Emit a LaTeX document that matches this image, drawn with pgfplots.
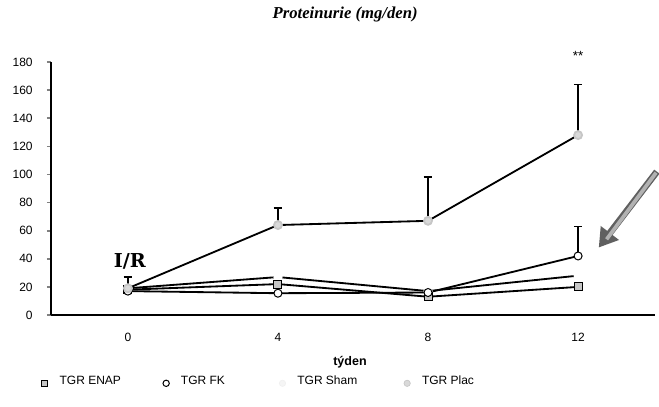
\documentclass[border=0pt]{standalone}
\usepackage{fontspec}
\setmainfont{Liberation Sans}
\newfontfamily\titlefont{Liberation Serif}
\newfontfamily\slabfont{DejaVu Serif}
\usepackage{pgfplots}
\pgfplotsset{compat=1.18}
\usetikzlibrary{arrows.meta}

\begin{document}
\begin{tikzpicture}
% 1 px of the reference = 0.6pt
\useasboundingbox (-30.6pt,-54.6pt) rectangle (364.8pt,189pt);
\begin{axis}[
    at={(0,0)}, anchor=south west,
    scale only axis,
    width=362.4pt, height=151.8pt,
    xmin=-2.05, xmax=14.05,
    ymin=0, ymax=180,
    axis lines*=left,
    axis line style={line width=1pt},
    xtick={0,4,8,12},
    ytick={0,20,...,180},
    x tick style={draw=none},
    y tick style={line width=1pt},
    tick align=outside,
    major tick length=2.5pt,
    /pgf/number format/assume math mode=true,
    ticklabel style={font=\fontsize{7.2}{8}\selectfont},
    yticklabel style={xshift=-5pt},
    xticklabel style={yshift=-5pt},
    clip=false,
    legend columns=4,
    legend style={
        at={(rel axis cs:-0.016,-0.27)}, anchor=west,
        draw=none, fill=none, inner sep=0pt,
        font=\fontsize{7.2}{8}\selectfont,
        /tikz/every even column/.append style={column sep=0pt},
    },
    legend cell align=left,
]

% TGR Sham (marker practically white)
\addplot[black, line width=1.1pt, mark=*, mark size=2.2pt,
    mark options={fill=white, draw=white}, forget plot]
    coordinates {(0,19) (4,27) (8,17) (12,28)};

% TGR ENAP
\addplot[black, line width=1.1pt, mark=square*, mark size=2.4pt,
    mark options={fill=gray!45, draw=black, line width=0.6pt}, forget plot]
    coordinates {(0,18) (4,22) (8,13) (12,20)};

% TGR FK
\addplot[black, line width=1.1pt, mark=*, mark size=2.4pt,
    mark options={fill=white, draw=black, line width=0.6pt}, forget plot,
    error bars/.cd, y dir=plus, y explicit,
    error bar style={line width=1pt, black},
    error mark options={rotate=90, mark size=2.6pt, line width=1pt, black}]
    coordinates {(0,17) (4,15.5) (8,16) (12,42) +- (0,21)};

% TGR Plac
\addplot[black, line width=1.1pt, mark=*, mark size=2.4pt,
    mark options={fill=gray!30, draw=gray!45}, forget plot,
    error bars/.cd, y dir=plus, y explicit,
    error bar style={line width=1pt, black},
    error mark options={rotate=90, mark size=2.6pt, line width=1pt, black}]
    coordinates {(0,19) +- (0,8) (4,64) +- (0,12) (8,67) +- (0,31) (12,128) +- (0,36)};

% legend entries (marks only)
\addlegendimage{only marks, mark=square*, mark size=1.9pt, mark options={fill=gray!45, draw=black, line width=0.6pt}}
\addlegendentry{\hspace{5pt}\raisebox{2pt}{\makebox[60pt][l]{TGR ENAP}}}
\addlegendimage{only marks, mark=*, mark size=1.9pt, mark options={fill=white, draw=black, line width=0.6pt}}
\addlegendentry{\hspace{5pt}\raisebox{2pt}{\makebox[57pt][l]{TGR FK}}}
\addlegendimage{only marks, mark=*, mark size=1.9pt, mark options={fill=gray!8, draw=gray!12}}
\addlegendentry{\hspace{5pt}\raisebox{2pt}{\makebox[62pt][l]{TGR Sham}}}
\addlegendimage{only marks, mark=*, mark size=1.9pt, mark options={fill=gray!30, draw=gray!45}}
\addlegendentry{\hspace{5pt}\raisebox{2pt}{\makebox[40pt][l]{TGR Plac}}}

% annotations
\node[font=\slabfont\bfseries\fontsize{11.5}{12}\selectfont] at (axis cs:0.05,38) {I/R};
\node[font=\fontsize{8}{9}\selectfont] at (axis cs:12,184) {**};
\draw[line width=4pt, gray!75!black, -{Triangle[length=11pt, width=13pt]}]
    (axis cs:14.1,102) -- (axis cs:12.55,48);
\draw[line width=2.2pt, gray!60, shorten >=3pt, shorten <=0.8pt]
    (axis cs:14.1,102) -- (axis cs:12.68,51);

\node[font=\titlefont\bfseries\itshape\fontsize{10}{12}\selectfont]
    at (rel axis cs:0.487,1.186) {Proteinurie (mg/den)};
\node[font=\bfseries\fontsize{7.5}{9}\selectfont]
    at (rel axis cs:0.495,-0.186) {týden};
\end{axis}
\end{tikzpicture}
\end{document}
